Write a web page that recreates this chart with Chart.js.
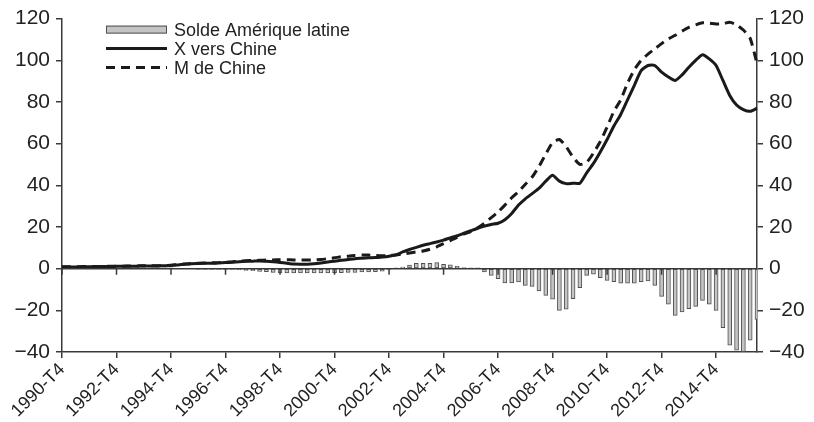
<!DOCTYPE html>
<html>
<head>
<meta charset="utf-8">
<script src="https://cdn.jsdelivr.net/npm/chart.js@4"></script>
<style>
	html, body { margin: 0; padding: 0; background: #fff; }
	#wrap { width: 814px; height: 422px; position: relative; }
</style>
</head>
<body>
<div id="wrap"><canvas id="chart"></canvas></div>
<script>
// quarters from 1990-T4 to 2016-T2
const quarters = [];
for (let y = 1990; y <= 2016; y++) {
	for (let q = 1; q <= 4; q++) {
		if (y === 1990 && q < 4) continue;
		if (y === 2016 && q > 2) continue;
		quarters.push(y + "-T" + q);
	}
}

const solde = [
	0.2, 0.1, 0.2, 0.1, 0.2, 0.1, 0.1, 0.2, 0.2, 0.1,
	0.1, 0.1, 0.1, 0.1, 0.2, 0.1, 0.1, 0.0, 0.0, 0.0,
	-0.1, -0.1, -0.1, -0.2, -0.2, -0.3, -0.5, -0.8, -1.0, -1.3,
	-1.5, -1.8, -2.0, -2.0, -2.1, -2.1, -2.0, -2.0, -2.0, -2.0,
	-1.9, -1.9, -1.8, -1.8, -1.6, -1.6, -1.4, -1.2, -0.3, 0.2,
	0.8, 1.7, 2.5, 2.5, 2.5, 2.9, 2.1, 1.8, 1.1, 0.5,
	0.2, 0.1, -1.6, -3.2, -4.8, -6.9, -6.9, -6.4, -8.0, -8.5,
	-10.7, -12.8, -14.7, -20.0, -19.5, -14.4, -9.1, -3.2, -2.7, -4.3,
	-5.6, -6.2, -7.0, -7.0, -7.0, -6.2, -5.9, -8.0, -13.3, -17.1,
	-22.4, -20.8, -19.2, -18.1, -15.2, -17.1, -20.0, -28.3, -36.7, -39.1,
	-39.9, -34.3, -24.4,
];

const xChine = [
	0.8, 0.8, 0.8, 0.9, 0.9, 0.9, 1.0, 1.0, 1.1, 1.1,
	1.2, 1.2, 1.3, 1.3, 1.3, 1.4, 1.5, 1.8, 2.1, 2.4,
	2.5, 2.6, 2.6, 2.7, 2.9, 3.1, 3.3, 3.5, 3.6, 3.7,
	3.5, 3.3, 3.0, 2.6, 2.2, 2.1, 2.1, 2.3, 2.7, 3.2,
	3.6, 4.0, 4.4, 4.8, 5.0, 5.2, 5.3, 5.6, 6.0, 6.6,
	8.0, 9.2, 10.2, 11.2, 12.0, 12.8, 13.7, 14.8, 15.8, 17.0,
	18.2, 19.4, 20.4, 21.2, 21.8, 23.5, 26.5, 30.5, 33.5, 36.0,
	38.5, 42.0, 44.8, 42.0, 40.8, 41.0, 41.0, 46.0, 50.5, 56.0,
	62.0, 68.5, 74.0, 81.0, 88.0, 95.0, 97.5, 97.5, 94.3, 92.0,
	90.3, 93.0, 96.7, 100.0, 102.7, 100.7, 97.5, 90.3, 83.1, 78.5,
	76.3, 75.5, 77.0,
];

const mChine = [
	0.9, 0.9, 0.9, 1.0, 1.0, 1.0, 1.1, 1.1, 1.2, 1.2,
	1.3, 1.3, 1.4, 1.4, 1.4, 1.5, 1.6, 1.9, 2.2, 2.5,
	2.6, 2.7, 2.8, 2.9, 3.1, 3.3, 3.6, 3.8, 3.9, 4.0,
	4.1, 4.2, 4.3, 4.3, 4.2, 4.1, 4.1, 4.2, 4.4, 4.8,
	5.2, 5.7, 6.0, 6.3, 6.5, 6.5, 6.3, 6.2, 6.3, 6.6,
	7.0, 7.5, 8.0, 8.5, 9.3, 10.5, 12.0, 13.5, 15.0, 16.7,
	17.8, 19.6, 21.8, 24.5, 27.2, 30.5, 34.0, 37.0, 40.5, 44.0,
	49.0, 55.0, 60.5, 62.0, 58.5, 53.5, 50.0, 51.0, 55.5, 61.0,
	68.0, 75.5, 81.0, 89.0, 95.5, 100.0, 103.0, 105.5, 108.0, 110.3,
	112.0, 114.0, 115.8, 117.0, 118.0, 117.8, 117.4, 117.6, 118.2, 117.0,
	114.5, 110.5, 98.5,
];

const yMin = -40;
const yMax = 120;
const yStep = 20;
const labelEvery = 8;

const axisColor = "#3a3a3a";
const textColor = "#222";
const lineColor = "#1a1a1a";
const barFill = "#c4c4c4";
const barEdge = "#505050";

Chart.defaults.font.family = "'Liberation Sans', Arial, sans-serif";
Chart.defaults.color = textColor;

const minusLabel = (value) => (value < 0 ? "\u2212" + Math.abs(value) : "" + value);

// horizontal line at 0 with small ticks under it
const zeroLine = {
	id: "zeroLine",
	afterDatasetsDraw(chart) {
		const { ctx, chartArea } = chart;
		const x = chart.scales.x;
		const y0 = chart.scales.y.getPixelForValue(0);
		ctx.save();
		ctx.strokeStyle = axisColor;
		ctx.lineWidth = 1.5;
		ctx.beginPath();
		ctx.moveTo(chartArea.left, y0);
		ctx.lineTo(chartArea.right, y0);
		x.ticks.forEach((t, i) => {
			const px = x.getPixelForTick(i);
			ctx.moveTo(px, y0);
			ctx.lineTo(px, y0 + 6);
		});
		ctx.stroke();
		ctx.restore();
	},
};

// legend drawn in the top left of the plot
const innerLegend = {
	id: "innerLegend",
	afterDraw(chart) {
		const { ctx, chartArea } = chart;
		const ds = chart.data.datasets;
		const x0 = chartArea.left + 44;
		const w = 61;
		const rowH = 19;
		const top = chartArea.top + 11;
		ctx.save();
		ctx.font = "18px 'Liberation Sans', Arial, sans-serif";
		ctx.fillStyle = textColor;
		ctx.textBaseline = "middle";
		ds.forEach((d, i) => {
			const cy = top + i * rowH;
			if (d.type === "bar") {
				ctx.fillStyle = barFill;
				ctx.fillRect(x0, cy - 4, w, 8);
				ctx.strokeStyle = barEdge;
				ctx.lineWidth = 1;
				ctx.strokeRect(x0 + 0.5, cy - 3.5, w - 1, 7);
			} else {
				ctx.strokeStyle = lineColor;
				ctx.lineWidth = 3;
				ctx.setLineDash(d.borderDash || []);
				ctx.beginPath();
				ctx.moveTo(x0, cy);
				ctx.lineTo(x0 + w, cy);
				ctx.stroke();
				ctx.setLineDash([]);
			}
			ctx.fillStyle = textColor;
			ctx.fillText(d.label, x0 + w + 7, cy + 1);
		});
		ctx.restore();
	},
};

const yAxis = (position, width) => ({
	position: position,
	min: yMin,
	max: yMax,
	afterFit: (scale) => {
		scale.width = width;
	},
	ticks: {
		stepSize: yStep,
		font: { size: 21 },
		color: textColor,
		padding: 6,
		callback: minusLabel,
	},
	grid: {
		drawOnChartArea: false,
		drawTicks: true,
		tickLength: 6,
		color: axisColor,
		lineWidth: 1.5,
	},
	border: { display: true, color: axisColor, width: 1.5 },
});

new Chart(document.getElementById("chart"), {
	data: {
		labels: quarters,
		datasets: [
			{
				type: "bar",
				label: "Solde Amérique latine",
				data: solde,
				backgroundColor: barFill,
				borderColor: barEdge,
				borderWidth: 1,
				borderSkipped: false,
				barThickness: 4,
				order: 3,
			},
			{
				type: "line",
				label: "X vers Chine",
				data: xChine,
				borderColor: lineColor,
				borderWidth: 3,
				pointRadius: 0,
				tension: 0.2,
				order: 1,
			},
			{
				type: "line",
				label: "M de Chine",
				data: mChine,
				borderColor: lineColor,
				borderWidth: 3,
				borderDash: [9, 6],
				pointRadius: 0,
				tension: 0.2,
				order: 2,
			},
		],
	},
	options: {
		responsive: true,
		maintainAspectRatio: false,
		animation: false,
		layout: { padding: { top: 8, right: 0, left: 0, bottom: 0 } },
		plugins: {
			legend: { display: false },
			tooltip: { enabled: false },
		},
		scales: {
			x: {
				type: "category",
				offset: false,
				afterFit: (scale) => {
					scale.height = 70;
				},
				grid: {
					offset: false,
					drawOnChartArea: false,
					drawTicks: true,
					tickLength: 6,
					color: axisColor,
					lineWidth: 1.5,
				},
				border: { display: true, color: axisColor, width: 1.5 },
				ticks: {
					autoSkip: false,
					minRotation: 45,
					maxRotation: 45,
					font: { size: 18 },
					color: textColor,
					padding: 1,
				},
				afterBuildTicks: (axis) => {
					axis.ticks = axis.ticks.filter((t) => t.value % labelEvery === 0);
				},
			},
			y: yAxis("left", 62),
			y2: yAxis("right", 57),
		},
	},
	plugins: [zeroLine, innerLegend],
});
</script>
</body>
</html>
